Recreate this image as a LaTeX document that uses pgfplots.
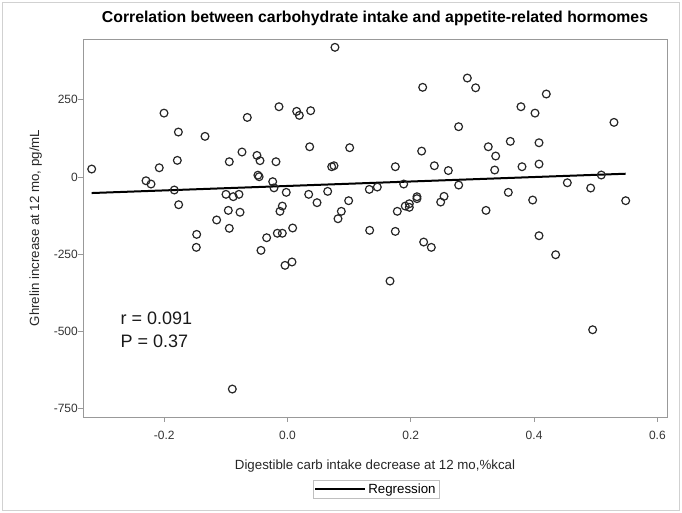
\documentclass[border=0pt]{standalone}
\usepackage{pgfplots}
\pgfplotsset{compat=1.18}
\usepackage{fontspec}
\setmainfont{Liberation Sans}
\setsansfont{Liberation Sans}
\begin{document}
\begin{tikzpicture}
\useasboundingbox (0,0) rectangle (682pt,513pt);
\draw[black!18, line width=1pt] (2.5pt,2.5pt) rectangle (679pt,510.5pt);
\begin{axis}[
  at={(83pt,96pt)}, anchor=south west,
  scale only axis, width=584pt, height=378pt,
  xmin=-0.3317, xmax=0.6156, ymin=-777, ymax=447,
  axis line style={black!40, line width=0.8pt},
  tick align=outside, tick pos=left, major tick length=5pt,
  tick style={black!40, line width=0.8pt},
  xtick={-0.2,0,0.2,0.4,0.6}, xticklabels={-0.2,0.0,0.2,0.4,0.6},
  ytick={-750,-500,-250,0,250}, yticklabels={-750,-500,-250,0,250},
  ticklabel style={font=\fontsize{12}{14}\selectfont, text=black!80},
  xticklabel style={anchor=base, yshift=-18pt},
  yticklabel style={anchor=east, inner sep=0pt},
  title={Correlation between carbohydrate intake and appetite-related hormomes},
  title style={at={(axis description cs:0.5,1)}, anchor=base, yshift=10pt, font=\bfseries\fontsize{15.8}{18}\selectfont},
  xlabel={Digestible carb intake decrease at 12 mo,\%kcal},
  xlabel style={at={(axis description cs:0.5,0)}, anchor=base, yshift=-53pt, font=\fontsize{13.3}{16}\selectfont, text=black!85},
  ylabel={Ghrelin increase at 12 mo, pg/mL},
  ylabel style={at={(axis description cs:-0.0753,0.5)}, anchor=base, font=\fontsize{13.3}{16}\selectfont, text=black!85},
  legend style={at={(axis description cs:0.5017,-0.1905)}, anchor=center, draw=black!25, font=\fontsize{13.3}{15}\selectfont, inner sep=1.5pt, legend cell align=left},
  legend image code/.code={\draw[#1] (0pt,0pt) -- (50pt,0pt);},
]
\addplot[only marks, mark=o, mark size=3.9pt, mark options={line width=1.2pt, black!85}, forget plot] coordinates {
(-0.3176,25.9) (-0.2003,207) (-0.177,145.7) (-0.1338,131.7) (-0.0652,193)
(-0.0138,227.7) (-0.1787,54) (-0.208,30) (-0.2295,-12) (-0.0944,49.6)
(-0.0738,81) (-0.0495,70) (-0.0446,53) (-0.0187,49.6) (-0.048,6)
(-0.046,1) (0.077,420) (0.0149,212.7) (0.0192,199.7) (0.0376,214.8)
(0.2193,290.5) (0.2917,320.6) (0.2776,163) (0.036,98) (0.1009,95)
(0.2176,84) (0.0717,33.4) (0.0754,36.6) (0.1749,33.4) (0.2382,36.6)
(0.2609,21) (0.3052,289) (0.4198,268.8) (0.3787,227.7) (0.4015,207)
(0.5296,177) (0.3257,98) (0.3614,115.5) (0.408,111) (0.3377,68)
(0.3361,22.7) (0.3804,33.4) (0.408,42) (0.509,6.5) (-0.2214,-22.7)
(-0.1836,-42) (-0.1765,-89.6) (-0.0998,-56) (-0.088,-63.6) (-0.0787,-56)
(-0.024,-15) (-0.0219,-35) (-0.096,-108) (-0.077,-114) (-0.1149,-139)
(-0.0944,-166) (-0.1473,-185.7) (-0.1479,-227.7) (-0.0338,-196.5) (-0.043,-237.5)
(-0.0122,-111) (-0.0084,-94) (-0.002,-49.6) (0.0344,-56) (0.0652,-46.4)
(0.0479,-83) (0.0992,-76.6) (0.1327,-40) (0.1457,-32.4) (0.1885,-22.7)
(0.2777,-26) (0.0873,-111) (0.0819,-135) (0.1781,-111) (0.191,-94)
(0.1976,-86.5) (0.1976,-98) (0.21,-63.8) (0.21,-70) (0.2539,-62.5)
(0.2485,-81) (-0.0165,-182) (-0.0084,-182) (0.0084,-165) (0.1333,-172.6)
(0.1749,-176) (0.2209,-210.5) (0.2333,-227.7) (-0.004,-286) (0.0073,-275)
(0.1663,-336.8) (0.3582,-49.6) (0.322,-108) (0.3977,-74.5) (0.4539,-18.5)
(0.4918,-35.6) (0.5486,-76.6) (0.408,-190) (0.435,-251.6) (-0.0895,-686.5)
(0.495,-494.5)
};
\addplot[black, line width=2pt] coordinates {(-0.3176,-51.8) (0.5486,10.7)};
\addlegendentry{Regression}
\node[anchor=base west, font=\fontsize{18}{21}\selectfont, text=black!90] at (axis description cs:0.0582,0.2434) {r = 0.091};
\node[anchor=base west, font=\fontsize{18}{21}\selectfont, text=black!90] at (axis description cs:0.0582,0.185) {P = 0.37};
\end{axis}
\end{tikzpicture}
\end{document}
